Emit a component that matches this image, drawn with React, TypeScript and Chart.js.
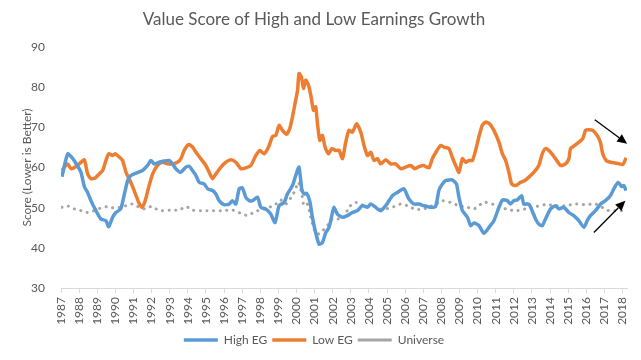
import React, { useEffect, useRef } from "react";
import { Chart, registerables } from "chart.js";

Chart.register(...registerables);

const TITLE = "Value Score of High and Low Earnings Growth";
const Y_TITLE = "Score (Lower is Better)";
const TICK_YEARS = [1987,1988,1989,1990,1991,1992,1993,1994,1995,1996,1997,1998,1999,2000,2001,2002,2003,2004,2005,2006,2007,2008,2009,2010,2011,2012,2013,2014,2015,2016,2017,2018];

const HIGH_X = [1987.05,1987.37,1987.65,1987.9,1988.1,1988.3,1988.47,1988.65,1988.93,1989.2,1989.48,1989.63,1989.85,1990.03,1990.3,1990.5,1990.68,1990.86,1991.14,1991.5,1991.78,1991.96,1992.15,1992.42,1992.7,1992.97,1993.16,1993.34,1993.6,1993.9,1994.08,1994.26,1994.45,1994.63,1994.9,1995.1,1995.37,1995.55,1995.73,1996.0,1996.28,1996.47,1996.65,1996.84,1997.02,1997.2,1997.39,1997.57,1997.85,1998.03,1998.3,1998.58,1998.82,1999.04,1999.32,1999.5,1999.78,1999.96,2000.14,2000.29,2000.42,2000.55,2000.73,2000.88,2001.06,2001.25,2001.43,2001.62,2001.8,2001.95,2002.07,2002.26,2002.54,2002.81,2003.09,2003.37,2003.64,2003.92,2004.1,2004.37,2004.65,2004.93,2005.3,2005.57,2005.93,2006.2,2006.48,2006.76,2007.03,2007.4,2007.68,2007.86,2008.0,2008.24,2008.6,2008.83,2008.97,2009.16,2009.44,2009.62,2009.8,2010.08,2010.35,2010.63,2010.9,2011.18,2011.37,2011.64,2011.82,2012.0,2012.19,2012.43,2012.55,2012.83,2013.01,2013.2,2013.38,2013.57,2013.75,2014.03,2014.3,2014.49,2014.76,2015.04,2015.31,2015.59,2015.87,2016.05,2016.23,2016.51,2016.79,2017.06,2017.34,2017.52,2017.76,2017.95,2018.07,2018.2];
const HIGH_EG = [57.7,63.4,62.2,60.5,58.8,55.1,53.8,51.75,49.25,47.2,46.75,45.25,47.6,48.8,49.7,53.4,56.75,58,58.6,59.25,60.5,61.75,60.9,61.3,61.6,61.75,60.9,59.7,58.8,60.1,60.3,59.25,58,56.3,55.9,54.7,54.25,53.4,51.75,50.75,50.9,51.75,50.9,54.7,54.9,52.6,51.75,51.75,52.6,50.1,49.7,48.4,46.3,50.5,51.3,53.4,55.5,58,60.1,54.7,53.4,53.6,51.75,47.6,43.8,40.9,41.3,43.8,45.1,48,50.1,48.4,47.6,48,48.8,49.25,50.5,50.1,50.9,50.1,49.25,50.5,53,53.8,54.7,52.2,50.9,50.9,50.5,50.1,50.3,54.25,55.5,56.75,56.9,55.9,52.6,49.25,47.6,45.5,46.2,45.5,43.6,45.1,46.75,50.1,51.9,51.75,50.9,51.75,51.9,53,50.9,50.9,49.25,47.2,45.9,45.5,47.2,49.7,50.5,49.7,50.1,48.8,48,46.75,45.1,46.75,48,49.25,50.9,51.75,53,54.7,56.3,55.25,55.5,54.25];

const LOW_X = [1987.05,1987.37,1987.55,1987.83,1988.1,1988.29,1988.47,1988.65,1988.89,1989.11,1989.3,1989.48,1989.63,1989.85,1990.0,1990.22,1990.4,1990.59,1990.81,1991.04,1991.29,1991.47,1991.65,1991.84,1992.06,1992.33,1992.6,1992.88,1993.16,1993.43,1993.62,1993.8,1994.04,1994.26,1994.45,1994.72,1995.0,1995.22,1995.37,1995.55,1995.83,1996.1,1996.38,1996.65,1996.93,1997.2,1997.48,1997.76,1997.98,1998.21,1998.46,1998.68,1998.86,1999.04,1999.23,1999.45,1999.63,1999.78,1999.92,2000.06,2000.14,2000.27,2000.39,2000.51,2000.66,2000.79,2000.94,2001.06,2001.16,2001.29,2001.43,2001.58,2001.77,2001.95,2002.17,2002.35,2002.54,2002.72,2002.9,2003.09,2003.32,2003.55,2003.73,2003.92,2004.1,2004.28,2004.47,2004.65,2004.93,2005.2,2005.48,2005.75,2006.03,2006.3,2006.54,2006.76,2007.03,2007.31,2007.5,2007.7,2007.96,2008.14,2008.42,2008.6,2008.79,2008.97,2009.16,2009.34,2009.52,2009.71,2009.89,2010.07,2010.26,2010.44,2010.66,2010.9,2011.18,2011.37,2011.55,2011.73,2011.88,2012.1,2012.37,2012.61,2012.83,2013.1,2013.38,2013.57,2013.75,2014.03,2014.3,2014.58,2014.85,2015.04,2015.13,2015.37,2015.59,2015.81,2015.96,2016.14,2016.36,2016.6,2016.78,2016.91,2017.1,2017.34,2017.61,2017.83,2018.02,2018.2];
const LOW_EG = [59.25,60.9,59.7,60.25,61.3,61.9,58.4,57.2,57.4,58.4,59.25,61.75,63.4,63,63.4,62.6,61.75,58.8,56.75,54.25,51.3,50.1,51.75,55.1,58.4,60.5,61.3,60.9,60.9,61.3,62.2,64.25,65.7,65.1,63.8,62.2,60.5,58.4,57.2,58.4,60.1,61.3,61.9,61.3,59.7,59.9,60.5,63,64.25,63.4,65.1,67.75,68,70.5,69.25,68.25,69.7,72.6,75.9,79.25,83.4,82.6,79.7,81.75,80.5,78,74.25,75.1,70.9,66.75,68,65.1,63.4,64.7,64.25,64.3,62.2,66.3,69.25,68.8,70.9,68.8,65.5,63,63.8,61.75,62.2,60.9,61.9,60.9,60.9,59.7,60.1,60.5,59.7,60.2,60.5,59.9,62.2,63.8,65.5,65.1,64.7,62.6,60.5,58.8,62.2,61.3,61.75,61.75,64.25,67.6,70.5,71.3,70.9,69.25,66.3,63.4,61.75,58.8,55.9,55.5,56.3,56.75,57.6,58.8,60.5,63.4,64.7,63.8,62.2,60.5,60.9,62.2,64.7,65.5,66.3,67.2,69.25,69.4,69.25,68,66.3,63.4,61.75,61.3,61.1,60.9,60.75,62.4];

const UNIV_X = [1987.05,1987.37,1987.73,1988.1,1988.47,1988.84,1989.2,1989.57,1989.94,1990.3,1990.68,1990.95,1991.41,1991.69,1991.96,1992.24,1992.52,1993.07,1993.52,1993.9,1994.26,1994.82,1995.37,1995.92,1996.47,1996.93,1997.3,1997.76,1998.3,1998.86,1999.13,1999.41,1999.68,1999.92,2000.1,2000.29,2000.42,2000.6,2000.79,2000.97,2001.16,2001.43,2001.71,2001.98,2002.35,2002.63,2002.9,2003.27,2003.55,2003.82,2004.19,2004.56,2004.93,2005.3,2005.75,2006.12,2006.58,2007.03,2007.5,2007.86,2008.05,2008.51,2008.97,2009.44,2009.8,2010.35,2010.81,2011.27,2011.64,2012.1,2012.65,2013.2,2013.75,2014.3,2014.85,2015.4,2015.96,2016.51,2016.87,2017.24,2017.7,2018.16];
const UNIVERSE = [50.1,50.4,49.7,49.25,48.8,49.25,49.9,50.25,49.9,50.1,50.6,50.9,49.9,49.7,50.25,49.7,49.25,49.4,49.4,50.25,49.4,49.25,49.25,49.25,49.4,48.6,48.1,49.1,49.7,50.9,51.9,50.9,52.4,54.25,56.3,53.4,50.5,50.9,47.6,44.7,43.4,44.25,45.5,47.2,47.2,47.6,50.1,51.3,50.9,50.25,50.5,49.7,49.7,50.1,50.9,50.5,49.6,49.7,50.5,51.3,51.75,51.3,50.5,50.1,49.7,51.3,50.9,50.1,49.6,49.25,49.7,50.25,50.75,50.5,50.5,50.9,50.75,50.9,50.1,49.25,49.25,49.25];

// arrow annotations in data coordinates: [x0, y0, x1, y1]
const ARROWS = [
  [2016.47, 71.9, 2018.26, 65.9],
  [2016.42, 43.8, 2018.16, 51.75],
];

const FONT = "Lato, 'Open Sans', sans-serif";
const TEXT = "#595959";

const pts = (xs: number[], ys: number[]) => xs.map((x, i) => ({ x, y: ys[i] }));

const arrowPlugin = {
  id: "arrows",
  afterDatasetsDraw(chart: any) {
    const { ctx, scales } = chart;
    ctx.save();
    ctx.strokeStyle = "#000";
    ctx.fillStyle = "#000";
    ctx.lineWidth = 1.3;
    for (const [a, b, c, d] of ARROWS) {
      const x0 = scales.x.getPixelForValue(a);
      const y0 = scales.y.getPixelForValue(b);
      const x1 = scales.x.getPixelForValue(c);
      const y1 = scales.y.getPixelForValue(d);
      const ang = Math.atan2(y1 - y0, x1 - x0);
      const L = 10, W = 4.5;
      const bx = x1 - L * Math.cos(ang), by = y1 - L * Math.sin(ang);
      ctx.beginPath();
      ctx.moveTo(x0, y0);
      ctx.lineTo(bx, by);
      ctx.stroke();
      ctx.beginPath();
      ctx.moveTo(x1, y1);
      ctx.lineTo(bx + W * Math.sin(ang), by - W * Math.cos(ang));
      ctx.lineTo(bx - W * Math.sin(ang), by + W * Math.cos(ang));
      ctx.closePath();
      ctx.fill();
    }
    ctx.restore();
  },
};

export default function App() {
  const ref = useRef<HTMLCanvasElement>(null);
  useEffect(() => {
    if (!ref.current) return;
    const chart = new Chart(ref.current, {
      type: "line",
      data: {
        datasets: [
          {
            label: "High EG",
            data: pts(HIGH_X, HIGH_EG),
            borderColor: "#5B9BD5",
            backgroundColor: "#5B9BD5",
            borderWidth: 3.5,
            pointRadius: 0,
            tension: 0.2,
          },
          {
            label: "Low EG",
            data: pts(LOW_X, LOW_EG),
            borderColor: "#ED7D31",
            backgroundColor: "#ED7D31",
            borderWidth: 3.5,
            pointRadius: 0,
            tension: 0.2,
          },
          {
            label: "Universe",
            data: pts(UNIV_X, UNIVERSE),
            borderColor: "#A5A5A5",
            backgroundColor: "#A5A5A5",
            borderWidth: 3,
            borderDash: [0.1, 6.5],
            borderCapStyle: "round",
            pointRadius: 0,
            tension: 0.3,
          },
        ],
      },
      options: {
        responsive: false,
        animation: false,
        layout: { padding: { left: 0, right: 13, top: 0, bottom: 4 } },
        plugins: {
          title: {
            display: true,
            text: TITLE,
            color: TEXT,
            font: { family: FONT, size: 17, weight: "normal" },
            padding: { top: 9, bottom: 17.6 },
          },
          legend: {
            position: "bottom",
            labels: {
              usePointStyle: true,
              pointStyle: "line",
              pointStyleWidth: 34,
              color: TEXT,
              font: { family: FONT, size: 12 },
              padding: 5,
            },
          },
          tooltip: { enabled: false },
        },
        scales: {
          x: {
            type: "linear",
            min: 1987,
            max: 2018.25,
            afterBuildTicks: (s: any) => {
              s.ticks = TICK_YEARS.map((v) => ({ value: v }));
            },
            afterFit: (s: any) => {
              s.height = 41;
            },
            ticks: {
              autoSkip: false,
              minRotation: 90,
              maxRotation: 90,
              color: TEXT,
              font: { family: FONT, size: 12 },
              padding: 4,
              callback: (v: any) => String(v),
            },
            grid: { display: true, drawOnChartArea: false, drawTicks: true, tickLength: 5, color: "#D9D9D9" },
            border: { display: true, color: "#D9D9D9" },
          },
          y: {
            min: 30,
            max: 90,
            afterFit: (s: any) => {
              s.width = 61;
            },
            ticks: { stepSize: 10, color: TEXT, font: { family: FONT, size: 12 }, padding: 8 },
            grid: { display: false },
            border: { display: false },
            title: {
              display: true,
              text: Y_TITLE,
              color: TEXT,
              font: { family: FONT, size: 12 },
              padding: { top: 20, bottom: 0 },
            },
          },
        },
      },
      plugins: [arrowPlugin],
    });
    return () => chart.destroy();
  }, []);
  return (
    <div style={{ position: "fixed", left: 0, top: 0, width: 641, height: 360, background: "#fff" }}>
      <canvas ref={ref} width={641} height={360} style={{ display: "block" }} />
    </div>
  );
}
